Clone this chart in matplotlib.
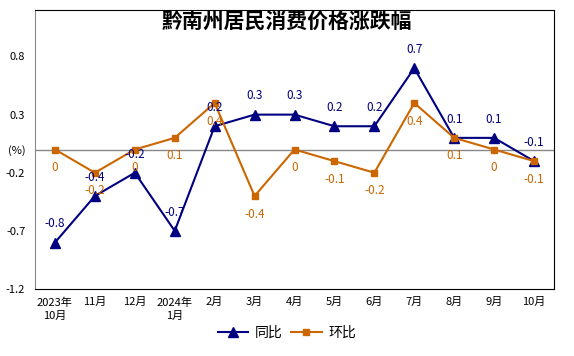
import matplotlib

matplotlib.use("Agg")
import matplotlib.pyplot as plt  # noqa: E402

plt.rcParams["font.family"] = ["Noto Sans CJK SC", "DejaVu Sans"]
plt.rcParams["axes.unicode_minus"] = False

months = ["2023年\n10月", "11月", "12月", "2024年\n1月", "2月", "3月", "4月",
          "5月", "6月", "7月", "8月", "9月", "10月"]
yoy = [-0.8, -0.4, -0.2, -0.7, 0.2, 0.3, 0.3, 0.2, 0.2, 0.7, 0.1, 0.1, -0.1]
mom = [0, -0.2, 0, 0.1, 0.4, -0.4, 0, -0.1, -0.2, 0.4, 0.1, 0, -0.1]
yticks = [-1.2, -0.7, -0.2, 0, 0.3, 0.8]
ylabels = ["-1.2", "-0.7", "-0.2", "(%)", "0.3", "0.8"]

NAVY = "#000080"
ORANGE = "#CC6600"

fig = plt.figure(figsize=(5.74, 3.56), dpi=100)
ax = fig.add_axes([35 / 574, 1 - 289 / 356, 519 / 574, 279 / 356])

x = list(range(len(months)))
ax.axhline(0, color="#888888", lw=1, zorder=1)
ax.plot(x, yoy, color=NAVY, lw=1.5, marker="^", ms=6.5, label="同比", zorder=3)
ax.plot(x, mom, color=ORANGE, lw=1.5, marker="s", ms=4.5, label="环比", zorder=3)

for i, v in enumerate(yoy):
    ax.annotate(f"{v:g}", (i, v), xytext=(0, 13.5), textcoords="offset points",
                ha="center", va="center", color=NAVY, fontsize=8.5)
for i, v in enumerate(mom):
    ax.annotate(f"{v:g}", (i, v), xytext=(0, -13), textcoords="offset points",
                ha="center", va="center", color=ORANGE, fontsize=8.5)

ax.set_xlim(-0.5, len(months) - 0.5)
ax.set_ylim(-1.2, 1.2)
ax.set_xticks(x)
ax.set_xticklabels(months, fontsize=8, linespacing=1.45)
ax.set_yticks(yticks)
ax.set_yticklabels(ylabels, fontsize=8)
ax.tick_params(axis="x", length=0, pad=6)
ax.tick_params(axis="y", length=0, pad=7)
for s in ("top", "right", "bottom"):
    ax.spines[s].set_color("black")
ax.spines["left"].set_color("#888888")

fig.text(0.5, 1 - 22 / 356, "黔南州居民消费价格涨跌幅", ha="center", va="center",
         fontsize=15, fontweight="bold")
fig.legend(loc="center", bbox_to_anchor=(0.5, 1 - 333 / 356), ncol=2, frameon=False,
           fontsize=10, handlelength=2.2, columnspacing=0.6, handletextpad=0.5)

fig.savefig("out.png", dpi=100)
